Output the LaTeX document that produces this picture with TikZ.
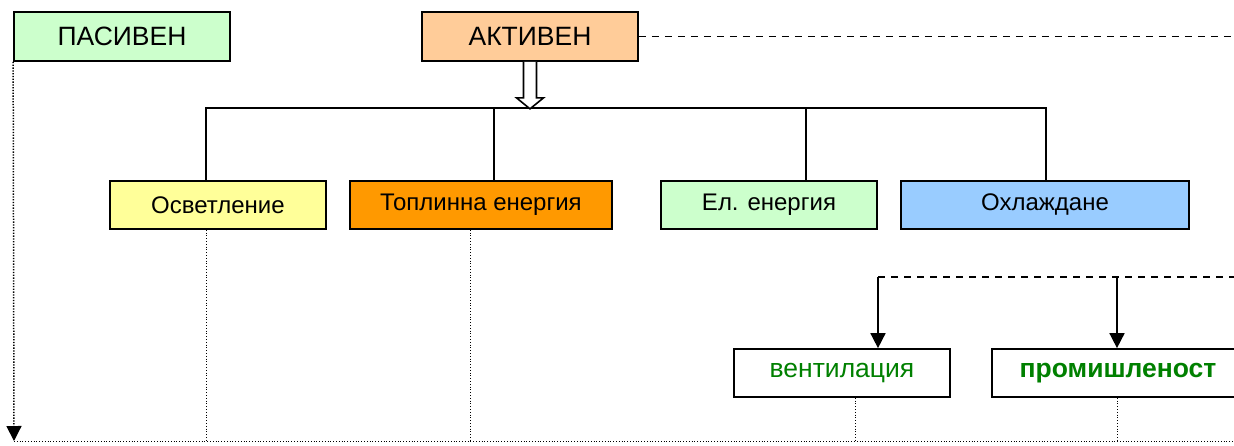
\documentclass[tikz,border=0pt]{standalone}
\usepackage{fontspec}
\setmainfont{Liberation Sans}
\usetikzlibrary{arrows.meta}
\definecolor{lgreen}{HTML}{CCFFCC}
\definecolor{peach}{HTML}{FFCC99}
\definecolor{lyellow}{HTML}{FFFF99}
\definecolor{orangeF}{HTML}{FF9900}
\definecolor{lblue}{HTML}{99CCFF}
\definecolor{dgreen}{HTML}{008000}
\begin{document}
\begin{tikzpicture}[x=1pt,y=-1pt,
  box/.style={draw=black, line width=1.7pt, rectangle, inner sep=0pt, text=black},
  topbox/.style={box, minimum width=216pt, minimum height=49pt, font=\fontsize{26.5}{30}\selectfont},
  midbox/.style={box, minimum height=48pt, font=\fontsize{24}{28}\selectfont},
  lowbox/.style={box, fill=white, minimum height=48pt, font=\fontsize{26.5}{30}\selectfont, text=dgreen},
  bus/.style={line width=1.6pt},
  dashline/.style={line width=1.7pt, dash pattern=on 7pt off 6pt},
  dotline/.style={line width=1pt, dash pattern=on 1pt off 1.8pt},
  dotthick/.style={line width=1.5pt, dash pattern=on 1.3pt off 1.5pt},
  tri/.style={-{Triangle[width=15pt,length=15pt]}}
]
\useasboundingbox (0,0) rectangle (1234,445);

% top row
\node[topbox, fill=lgreen] (pas) at (122,36.5) {ПАСИВЕН};
\node[topbox, fill=peach] (akt) at (530,36.5) {АКТИВЕН};

% middle row
\node[midbox, fill=lyellow, minimum width=216pt] (osv) at (218,205) {Осветление};
\node[midbox, fill=orangeF, minimum width=262pt] (topl) at (481,205) {Топлинна енергия};
\node[midbox, fill=lgreen, minimum width=216pt] (el) at (769,205) {Ел. енергия};
\node[midbox, fill=lblue, minimum width=288pt] (ohl) at (1045,205) {Охлаждане};

% lower row
\node[lowbox, minimum width=216pt] (vent) at (842,373) {вентилация};
\node[lowbox, minimum width=252pt, font=\fontsize{26.5}{30}\selectfont\bfseries] (prom) at (1118,373) {промишленост};

% bus
\coordinate (b1) at (206,108);
\coordinate (b2) at (494,108);
\coordinate (b3) at (806,108);
\coordinate (b4) at (1046,108);
\draw[bus] (b1 |- osv.north) -- (b1) -- (b4) -- (b4 |- ohl.north);
\draw[bus] (b2) -- (b2 |- topl.north);
\draw[bus] (b3) -- (b3 |- el.north);

% hollow arrow
\draw[line width=1.6pt, fill=white, line join=miter] (akt.south) ++(-6.5,0) -- ++(0,36) -- ++(-7,0) -- ++(13.5,11) -- ++(13.5,-11) -- ++(-7,0) -- ++(0,-36);

% dashed lines
\coordinate (dR) at (1234,36.5);
\draw[dashline] (akt.east) -- (dR);
\coordinate (d2L) at (878,277);
\coordinate (d2M) at (1117,277);
\coordinate (d2R) at (1234,277);
\draw[dashline] (d2L) -- (d2R);
\draw[line width=1.6pt, tri] (d2L) -- (d2L |- vent.north);
\draw[line width=1.6pt, tri] (d2M) -- (d2M |- prom.north);

% dotted lines
\coordinate (bl) at (14,441);
\coordinate (br) at (1234,441);
\draw[dotline] (bl) -- (br);
\draw[dotthick, -{Triangle[width=15pt,length=15pt]}] (pas.south west) -- (bl);
\coordinate (v1) at (206,441);
\coordinate (v2) at (470,441);
\coordinate (v3) at (855,441);
\coordinate (v4) at (1117,441);
\draw[dotline] (v1 |- osv.south) -- (v1);
\draw[dotline] (v2 |- topl.south) -- (v2);
\draw[dotline] (v3 |- vent.south) -- (v3);
\draw[dotline] (v4 |- prom.south) -- (v4);
\end{tikzpicture}
\end{document}
